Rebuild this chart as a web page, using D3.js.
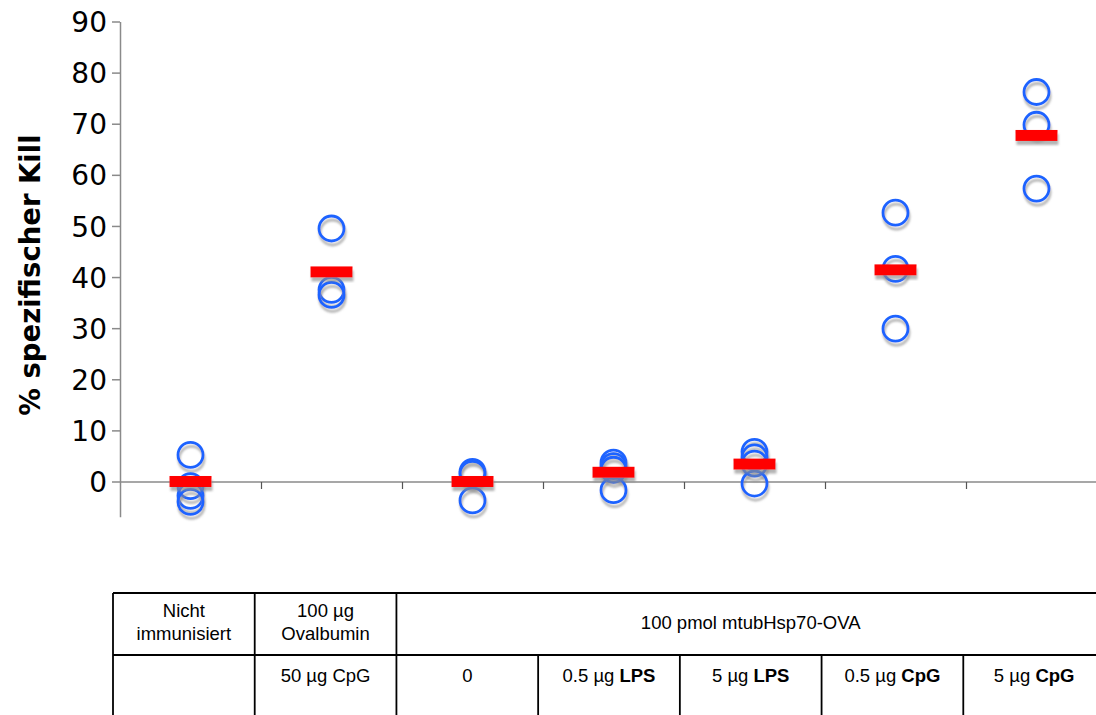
<!DOCTYPE html>
<html>
<head>
<meta charset="utf-8">
<script src="https://cdn.jsdelivr.net/npm/d3@7"></script>
<style>
  html, body { margin: 0; padding: 0; background: #fff; }
  svg { display: block; }
</style>
</head>
<body>
<svg id="chart" width="1096" height="715"></svg>
<script>
// Groups along the x axis
const groups = ["g1", "g2", "g3", "g4", "g5", "g6", "g7"];

// Individual animals (% specific kill) per group
const animalValues = [
  [5.3, -0.8, -2.7, -3.9],
  [49.6, 37.6, 36.6],
  [2.0, 1.6, -3.6],
  [3.8, 3.1, 2.4, -1.6],
  [5.9, 4.8, 3.6, -0.3],
  [52.7, 41.7, 30.0],
  [76.3, 69.9, 57.4]
];

// Group means (red bars)
const groupMeans = [0.1, 41.1, 0.1, 1.9, 3.5, 41.5, 67.8];

// Y axis ticks
const yTicks = [0, 10, 20, 30, 40, 50, 60, 70, 80, 90];
const yTitle = "% spezifischer Kill";

// Table below the chart: first row (immunisation), second row (adjuvant)
const rowOne = [
  { from: 0, span: 1, lines: ["Nicht", "immunisiert"] },
  { from: 1, span: 1, lines: ["100 µg", "Ovalbumin"] },
  { from: 2, span: 5, lines: ["100 pmol mtubHsp70-OVA"] }
];
const rowTwo = [
  { col: 0, plain: "", bold: "" },
  { col: 1, plain: "50 µg CpG", bold: "" },
  { col: 2, plain: "0", bold: "" },
  { col: 3, plain: "0.5 µg ", bold: "LPS" },
  { col: 4, plain: "5 µg ", bold: "LPS" },
  { col: 5, plain: "0.5 µg ", bold: "CpG" },
  { col: 6, plain: "5 µg ", bold: "CpG" }
];

const svg = d3.select("#chart");

// Scales
const x = d3.scaleBand().domain(groups).range([120, 1107]);
const y = d3.scaleLinear().domain([0, 90]).range([482, 22]);
const yMin = -6.9;

// Soft drop shadow used by circles and bars
const defs = svg.append("defs");
const f = defs.append("filter").attr("id", "shadow")
  .attr("x", "-30%").attr("y", "-30%").attr("width", "160%").attr("height", "180%");
f.append("feDropShadow")
  .attr("dx", 1).attr("dy", 4).attr("stdDeviation", 0.9)
  .attr("flood-color", "#8c8c8c").attr("flood-opacity", 0.65);

// Axes
const axisColor = "#8a8a8a";
const axes = svg.append("g");

// y axis line extends a little below zero
axes.append("line")
  .attr("x1", 120.5).attr("x2", 120.5)
  .attr("y1", y(90)).attr("y2", y(yMin))
  .attr("stroke", axisColor).attr("stroke-width", 1.5);

// zero line (x axis)
axes.append("line")
  .attr("x1", 120).attr("x2", 1096)
  .attr("y1", y(0)).attr("y2", y(0))
  .attr("stroke", axisColor).attr("stroke-width", 1.5);

// y ticks and labels
const yt = axes.selectAll(".ytick").data(yTicks).join("g").attr("class", "ytick")
  .attr("transform", d => `translate(0,${y(d)})`);
yt.append("line").attr("x1", 112).attr("x2", 120)
  .attr("stroke", axisColor).attr("stroke-width", 1.5);
yt.append("text")
  .attr("x", 107).attr("dy", "0.36em")
  .attr("text-anchor", "end")
  .attr("font-family", "DejaVu Sans, Verdana, sans-serif")
  .attr("font-size", 28)
  .attr("fill", "#000")
  .text(d => d);

// x ticks at group boundaries
axes.selectAll(".xtick").data(groups.slice(1)).join("line").attr("class", "xtick")
  .attr("x1", d => x(d) + 0.5).attr("x2", d => x(d) + 0.5)
  .attr("y1", y(0)).attr("y2", y(0) + 7)
  .attr("stroke", "#555").attr("stroke-width", 1.2);

// y axis title
svg.append("text")
  .attr("transform", `translate(30,${(135 + 415) / 2}) rotate(-90)`)
  .attr("text-anchor", "middle")
  .attr("dy", "0.36em")
  .attr("font-family", "DejaVu Sans, Verdana, sans-serif")
  .attr("font-weight", "bold")
  .attr("font-size", 27.5)
  .attr("fill", "#000")
  .text(yTitle);

// Points
const points = [];
animalValues.forEach((vals, i) => vals.forEach(v => points.push({ g: groups[i], v })));

svg.append("g").selectAll("circle").data(points).join("circle")
  .attr("cx", d => x(d.g) + x.bandwidth() / 2)
  .attr("cy", d => y(d.v))
  .attr("r", 12.5)
  .attr("fill", "none")
  .attr("stroke", "#1f63ff")
  .attr("stroke-width", 2.8)
  .attr("filter", "url(#shadow)");

// Mean bars
svg.append("g").selectAll("rect").data(groupMeans).join("rect")
  .attr("x", (d, i) => x(groups[i]) + x.bandwidth() / 2 - 21)
  .attr("y", d => y(d) - 5.5)
  .attr("width", 42)
  .attr("height", 11)
  .attr("fill", "#ff0000")
  .attr("filter", "url(#shadow)");

// Table
const tx = d3.scaleBand().domain(d3.range(7)).range([113, 1105]);
const tTop = 593, tMid = 655, tBottom = 720;
const table = svg.append("g")
  .attr("font-family", "Liberation Sans, Arial, sans-serif")
  .attr("font-size", 18.5)
  .attr("fill", "#000");
const lineStyle = sel => sel.attr("stroke", "#000").attr("stroke-width", 1.8);

table.append("line").attr("x1", tx(0)).attr("x2", tx(6) + tx.bandwidth())
  .attr("y1", tTop).attr("y2", tTop).call(lineStyle);
table.append("line").attr("x1", tx(0)).attr("x2", tx(6) + tx.bandwidth())
  .attr("y1", tMid).attr("y2", tMid).call(lineStyle);

// vertical borders: full height for the first three, lower row only for the rest
d3.range(8).forEach(i => {
  const xx = i < 7 ? tx(i) : tx(6) + tx.bandwidth();
  const full = i <= 2 || i === 7;
  table.append("line").attr("x1", xx).attr("x2", xx)
    .attr("y1", full ? tTop : tMid).attr("y2", tBottom).call(lineStyle);
});

rowOne.forEach(c => {
  const cx = tx(c.from) + tx.bandwidth() * c.span / 2;
  const t = table.append("text").attr("text-anchor", "middle");
  if (c.lines.length === 1) {
    t.append("tspan").attr("x", cx).attr("y", 629).text(c.lines[0]);
  } else {
    t.append("tspan").attr("x", cx).attr("y", 617).text(c.lines[0]);
    t.append("tspan").attr("x", cx).attr("y", 640).text(c.lines[1]);
  }
});

rowTwo.forEach(c => {
  const t = table.append("text").attr("text-anchor", "middle")
    .attr("x", tx(c.col) + tx.bandwidth() / 2).attr("y", 682);
  t.append("tspan").text(c.plain);
  if (c.bold) t.append("tspan").attr("font-weight", "bold").text(c.bold);
});
</script>
</body>
</html>
